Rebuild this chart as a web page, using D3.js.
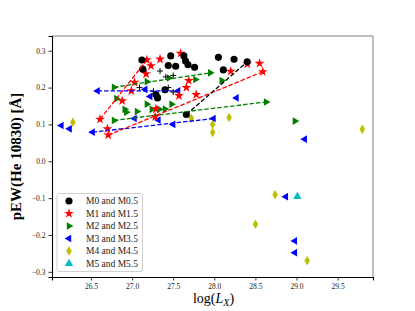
<!DOCTYPE html>
<html lang="en">
<head>
  <meta charset="UTF-8">
  <title>pEW(He 10830) vs log(Lx)</title>
  <script src="https://d3js.org/d3.v7.min.js"></script>
  <style>
    body { margin: 0; background: #fff; }
    text { font-family: "Liberation Serif", "DejaVu Serif", serif; }
  </style>
</head>
<body>
<script>
  // points per spectral group, [log(Lx), pEW]
  const m0 = [
    [27.12, 0.275], [27.13, 0.250], [27.47, 0.286], [27.44, 0.260], [27.53, 0.258],
    [27.63, 0.286], [27.65, 0.272], [27.68, 0.262], [27.76, 0.255], [28.05, 0.282],
    [28.11, 0.248], [28.24, 0.277], [28.40, 0.270], [27.29, 0.181], [27.31, 0.172],
    [27.40, 0.194], [27.66, 0.127]
  ];
  const m1 = [
    [27.18, 0.275], [27.23, 0.259], [27.34, 0.277], [27.59, 0.293], [27.17, 0.237],
    [27.03, 0.214], [26.99, 0.191], [26.88, 0.164], [27.69, 0.219], [27.66, 0.200],
    [27.57, 0.178], [27.29, 0.142], [27.28, 0.121], [27.78, 0.181], [26.61, 0.114],
    [26.70, 0.088], [26.71, 0.071], [28.20, 0.244], [28.40, 0.264], [28.55, 0.266],
    [28.59, 0.243]
  ];
  const m2 = [
    [26.78, 0.201], [27.18, 0.216], [27.45, 0.226], [27.30, 0.178], [26.81, 0.170],
    [26.91, 0.141], [26.93, 0.133], [27.06, 0.135], [27.18, 0.155], [27.24, 0.141],
    [27.33, 0.141], [27.40, 0.142], [27.48, 0.155], [26.78, 0.111], [27.77, 0.222],
    [27.95, 0.240], [28.09, 0.219], [28.63, 0.161], [28.98, 0.109]
  ];
  const m3 = [
    [26.58, 0.191], [27.16, 0.195], [27.22, 0.176], [27.56, 0.191], [26.14, 0.097],
    [26.24, 0.088], [26.52, 0.079], [27.03, 0.116], [27.32, 0.112], [27.50, 0.100],
    [27.99, 0.116], [28.27, 0.172], [29.10, 0.060], [28.87, -0.096], [28.98, -0.216],
    [28.98, -0.248]
  ];
  const m4 = [
    [26.28, 0.106], [27.72, 0.117], [27.98, 0.100], [27.98, 0.078], [28.18, 0.119],
    [29.80, 0.087], [28.74, -0.091], [28.50, -0.171], [29.13, -0.270]
  ];
  const m5 = [[29.01, -0.096]];
  const extra = [
    [27.34, 0.245], [27.41, 0.229], [27.50, 0.233], [27.09, 0.200], [27.26, 0.190],
    [27.44, 0.200], [27.50, 0.188]
  ];

  // repeated measurements joined by dashed lines
  const m0Links = [[[27.66, 0.127], [28.40, 0.270]]];
  const m1Links = [[[26.61, 0.114], [27.18, 0.275]], [[26.71, 0.071], [28.59, 0.243]]];
  const m2Links = [[[26.78, 0.201], [27.95, 0.240]], [[26.78, 0.111], [28.63, 0.161]]];
  const m3Links = [[[26.58, 0.191], [27.56, 0.191]], [[26.52, 0.079], [27.99, 0.116]]];

  const legendLabels = ['M0 and M0.5', 'M1 and M1.5', 'M2 and M2.5', 'M3 and M3.5', 'M4 and M4.5', 'M5 and M5.5'];
  const xTicks = [26.5, 27.0, 27.5, 28.0, 28.5, 29.0, 29.5];
  const yTicks = [-0.3, -0.2, -0.1, 0.0, 0.1, 0.2, 0.3];

  const W = 415, H = 311;
  const pl = 52, pr = 373, pt = 36, pb = 277;

  const svg = d3.select('body').append('svg')
    .attr('width', W).attr('height', H);

  const x = d3.scaleLinear().domain([26.026, 29.93]).range([pl, pr]);
  const y = d3.scaleLinear().domain([-0.314, 0.34]).range([pb, pt]);

  // marker shapes
  const tri = (dir, r) => {
    if (dir === 'right') return `M${r},0L${-r / 2},${-r * 0.87}L${-r / 2},${r * 0.87}Z`;
    return `M${-r},0L${r / 2},${-r * 0.87}L${r / 2},${r * 0.87}Z`;
  };
  const groups = [
    { data: m0, color: '#000000', path: d3.symbol(d3.symbolCircle, 40)() },
    { data: m1, color: '#ff0000', path: d3.symbol(d3.symbolStar, 30)() },
    { data: m2, color: '#008000', path: tri('right', 4.4) },
    { data: m3, color: '#0000ff', path: tri('left', 4.4) },
    { data: m4, color: '#bfbf00', path: d3.symbol(d3.symbolDiamond, 26)() },
    { data: m5, color: '#00bfbf', path: d3.symbol(d3.symbolTriangle, 30)() }
  ];

  const plot = svg.append('g');

  // markers (M5 first, M0 on top)
  groups.slice().reverse().forEach(g => {
    plot.selectAll(null)
      .data(g.data)
      .enter().append('path')
      .attr('d', g.path)
      .attr('transform', d => `translate(${x(d[0])},${y(d[1])})`)
      .attr('fill', g.color);
  });

  // black plus markers
  plot.selectAll(null)
    .data(extra)
    .enter().append('path')
    .attr('d', 'M-3,0H3M0,-3V3')
    .attr('transform', d => `translate(${x(d[0])},${y(d[1])})`)
    .attr('stroke', '#000')
    .attr('stroke-width', 1)
    .attr('fill', 'none');

  // dashed links
  const line = d3.line().x(d => x(d[0])).y(d => y(d[1]));
  [[m3Links, '#0000ff'], [m2Links, '#008000'], [m1Links, '#ff0000'], [m0Links, '#000000']].forEach(([links, c]) => {
    plot.selectAll(null)
      .data(links)
      .enter().append('path')
      .attr('d', line)
      .attr('fill', 'none')
      .attr('stroke', c)
      .attr('stroke-width', 1.3)
      .attr('stroke-dasharray', '4.5,2');
  });

  // frame
  svg.append('line').attr('x1', pl).attr('x2', pr).attr('y1', pt).attr('y2', pt)
    .attr('stroke', '#808080').attr('stroke-width', 1);
  svg.append('line').attr('x1', pr).attr('x2', pr).attr('y1', pt).attr('y2', pb)
    .attr('stroke', '#808080').attr('stroke-width', 1);

  const fmt = d => (d < 0 ? '\u2212' : '') + Math.abs(d).toFixed(1);

  const xAxis = svg.append('g')
    .attr('transform', `translate(0,${pb})`)
    .call(d3.axisBottom(x).tickValues(xTicks).tickFormat(d => d.toFixed(1)).tickSize(3.5).tickPadding(3));
  const yAxis = svg.append('g')
    .attr('transform', `translate(${pl},0)`)
    .call(d3.axisLeft(y).tickValues(yTicks).tickFormat(fmt).tickSize(3.5).tickPadding(3));

  [xAxis, yAxis].forEach(a => {
    a.select('.domain').attr('stroke', '#000').attr('stroke-width', 1.1);
    a.selectAll('.tick line').attr('stroke', '#000').attr('stroke-width', 0.8);
    a.selectAll('.tick text')
      .attr('fill', '#222')
      .style('font-family', '"Liberation Serif", serif')
      .style('font-size', '7.5px');
  });

  // axis labels
  const xl = svg.append('text')
    .attr('x', (pl + pr) / 2 + 1)
    .attr('y', 303)
    .attr('text-anchor', 'middle')
    .style('font-size', '14px');
  xl.append('tspan').text('log(');
  xl.append('tspan').style('font-style', 'italic').text('L');
  xl.append('tspan').style('font-style', 'italic').style('font-size', '10px').attr('dy', 3).text('X');
  xl.append('tspan').attr('dy', -3).text(')');

  svg.append('text')
    .attr('transform', `translate(21,${(pt + pb) / 2}) rotate(-90)`)
    .attr('text-anchor', 'middle')
    .style('font-size', '15px')
    .style('font-weight', 'bold')
    .text('pEW(He 10830) [\u00c5]');

  // legend
  const lg = svg.append('g').attr('transform', 'translate(57,193.5)');
  lg.append('rect')
    .attr('width', 85.5).attr('height', 78)
    .attr('rx', 2)
    .attr('fill', '#fff')
    .attr('fill-opacity', 0.8)
    .attr('stroke', '#d0d0d0')
    .attr('stroke-width', 1);

  const rows = lg.selectAll('g.row')
    .data(groups)
    .enter().append('g')
    .attr('class', 'row')
    .attr('transform', (d, i) => `translate(0,${7.5 + i * 12.5})`);
  rows.append('path')
    .attr('d', d => d.path)
    .attr('transform', 'translate(12,0)')
    .attr('fill', d => d.color);
  rows.append('text')
    .data(legendLabels)
    .attr('x', 29)
    .attr('y', 3)
    .style('font-size', '9.5px')
    .attr('fill', '#222')
    .text(d => d);
</script>
</body>
</html>
